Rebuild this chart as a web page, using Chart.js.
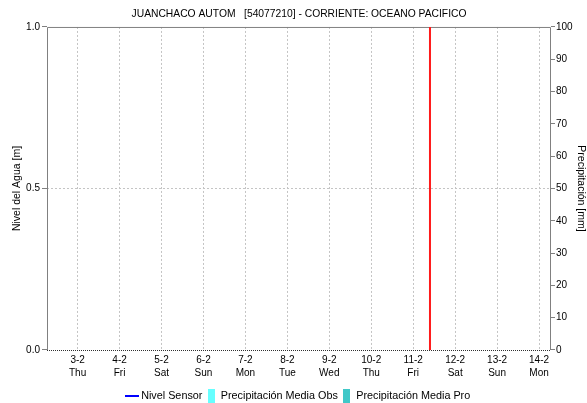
<!DOCTYPE html>
<html>
<head>
<meta charset="utf-8">
<script src="https://cdn.jsdelivr.net/npm/chart.js@4.4.1/dist/chart.umd.min.js"></script>
<style>
  html, body { margin: 0; padding: 0; background: #fff; }
</style>
</head>
<body>
<canvas id="nivelChart" width="587" height="403"></canvas>
<script>
// dias del eje x (posicion en dias desde 3-2 00:00)
const dayLabels = ['3-2', '4-2', '5-2', '6-2', '7-2', '8-2', '9-2', '10-2', '11-2', '12-2', '13-2', '14-2']
const weekDays = ['Thu', 'Fri', 'Sat', 'Sun', 'Mon', 'Tue', 'Wed', 'Thu', 'Fri', 'Sat', 'Sun', 'Mon']
const dayPos = [0, 1, 2, 3, 4, 5, 6, 7, 8, 9, 10, 11]
const xRange = [-0.73, 11.285]

// series (sin datos en el periodo)
const nivelSensor = []
const precipObs = []
const precipPro = []

// marca de tiempo actual (linea roja)
const marcaX = [8.4, 8.4]
const marcaY = [0, 1]

const nivelTicks = [0, 0.5, 1]
const precipTicks = [0, 10, 20, 30, 40, 50, 60, 70, 80, 90, 100]

const swatch = (w, h, color) => {
    const c = document.createElement('canvas')
    c.width = w
    c.height = h
    const g = c.getContext('2d')
    g.fillStyle = color
    g.fillRect(0, 0, w, h)
    return c
}

const frame = {
    id: 'frame',
    beforeDatasetsDraw(chart) {
        const { ctx, chartArea: a } = chart
        ctx.save()
        ctx.strokeStyle = '#808080'
        ctx.lineWidth = 1
        ctx.beginPath()
        ctx.moveTo(a.left + 0.5, a.bottom)
        ctx.lineTo(a.left + 0.5, a.top + 0.5)
        ctx.lineTo(a.right - 0.5, a.top + 0.5)
        ctx.lineTo(a.right - 0.5, a.bottom)
        ctx.stroke()
        ctx.strokeStyle = '#303030'
        ctx.setLineDash([1, 1])
        ctx.beginPath()
        ctx.moveTo(a.left, a.bottom + 0.5)
        ctx.lineTo(a.right, a.bottom + 0.5)
        ctx.stroke()
        ctx.restore()
    }
}

Chart.defaults.font.family = 'Arial, "Liberation Sans", sans-serif'
Chart.defaults.color = '#000'

new Chart(document.getElementById('nivelChart'), {
    type: 'line',
    data: {
        datasets: [{
            label: 'Nivel Sensor',
            data: nivelSensor,
            borderColor: '#0000ff',
            borderWidth: 1,
            pointRadius: 0,
            yAxisID: 'y'
        }, {
            type: 'bar',
            label: 'Precipitación Media Obs',
            data: precipObs,
            backgroundColor: '#66ffff',
            yAxisID: 'y2'
        }, {
            type: 'bar',
            label: 'Precipitación Media Pro',
            data: precipPro,
            backgroundColor: '#40c8c8',
            yAxisID: 'y2'
        }, {
            label: 'ahora',
            data: marcaX.map((x, i) => ({ x: x, y: marcaY[i] })),
            borderColor: '#ff1a1a',
            borderWidth: 2,
            pointRadius: 0,
            yAxisID: 'y'
        }]
    },
    options: {
        responsive: false,
        animation: false,
        layout: { padding: 0 },
        plugins: {
            title: {
                display: true,
                text: 'JUANCHACO AUTOM   [54077210] - CORRIENTE: OCEANO PACIFICO',
                fullSize: false,
                color: '#000',
                font: { size: 10.3, weight: 'normal', lineHeight: 1.2 },
                padding: { top: 8, bottom: 6.6 }
            },
            legend: {
                position: 'bottom',
                fullSize: false,
                maxHeight: 17,
                labels: {
                    usePointStyle: true,
                    pointStyleWidth: 8,
                    font: { size: 10.8 },
                    padding: 5,
                    generateLabels: () => [
                        { text: 'Nivel Sensor', pointStyle: swatch(14, 2, '#0000ff'), datasetIndex: 0 },
                        { text: 'Precipitación Media Obs', pointStyle: swatch(7, 15, '#66ffff'), datasetIndex: 1 },
                        { text: 'Precipitación Media Pro', pointStyle: swatch(7, 15, '#40c8c8'), datasetIndex: 2 }
                    ]
                }
            },
            tooltip: { enabled: false }
        },
        scales: {
            x: {
                type: 'linear',
                offset: false,
                min: xRange[0],
                max: xRange[1],
                afterBuildTicks: s => { s.ticks = dayPos.map(v => ({ value: v })) },
                afterFit: s => { s.height = 36 },
                grid: { offset: false, color: '#c4c4c4', drawTicks: false, borderDash: [2, 2] },
                border: { display: false, dash: [2, 2] },
                ticks: {
                    autoSkip: false,
                    maxRotation: 0,
                    padding: 4,
                    font: { size: 10, lineHeight: 1.3 },
                    callback: v => {
                        const i = dayPos.indexOf(v)
                        return i < 0 ? '' : [dayLabels[i], weekDays[i]]
                    }
                }
            },
            y: {
                position: 'left',
                min: 0,
                max: 1,
                afterBuildTicks: s => { s.ticks = nivelTicks.map(v => ({ value: v })) },
                afterFit: s => { s.width = 47 },
                grid: {
                    color: c => (c.tick && c.tick.value === 0.5) ? '#c4c4c4' : 'rgba(0,0,0,0)',
                    tickColor: '#808080',
                    tickLength: 5,
                    borderDash: [2, 2]
                },
                border: { display: false, dash: [2, 2] },
                ticks: { padding: 2, font: { size: 10 }, callback: v => v.toFixed(1) },
                title: {
                    display: true,
                    text: 'Nivel del Agua [m]',
                    font: { size: 10.5 },
                    padding: { top: 11, bottom: 4 }
                }
            },
            y2: {
                position: 'right',
                min: 0,
                max: 100,
                afterBuildTicks: s => { s.ticks = precipTicks.map(v => ({ value: v })) },
                afterFit: s => { s.width = 36 },
                grid: { drawOnChartArea: false, tickColor: '#808080', tickLength: 4 },
                border: { display: false },
                ticks: { padding: 1, font: { size: 10 } },
                title: {
                    display: true,
                    text: 'Precipitación [mm]',
                    font: { size: 10.5 },
                    padding: { top: 0, bottom: 1 }
                }
            }
        }
    },
    plugins: [frame]
});
</script>
</body>
</html>
